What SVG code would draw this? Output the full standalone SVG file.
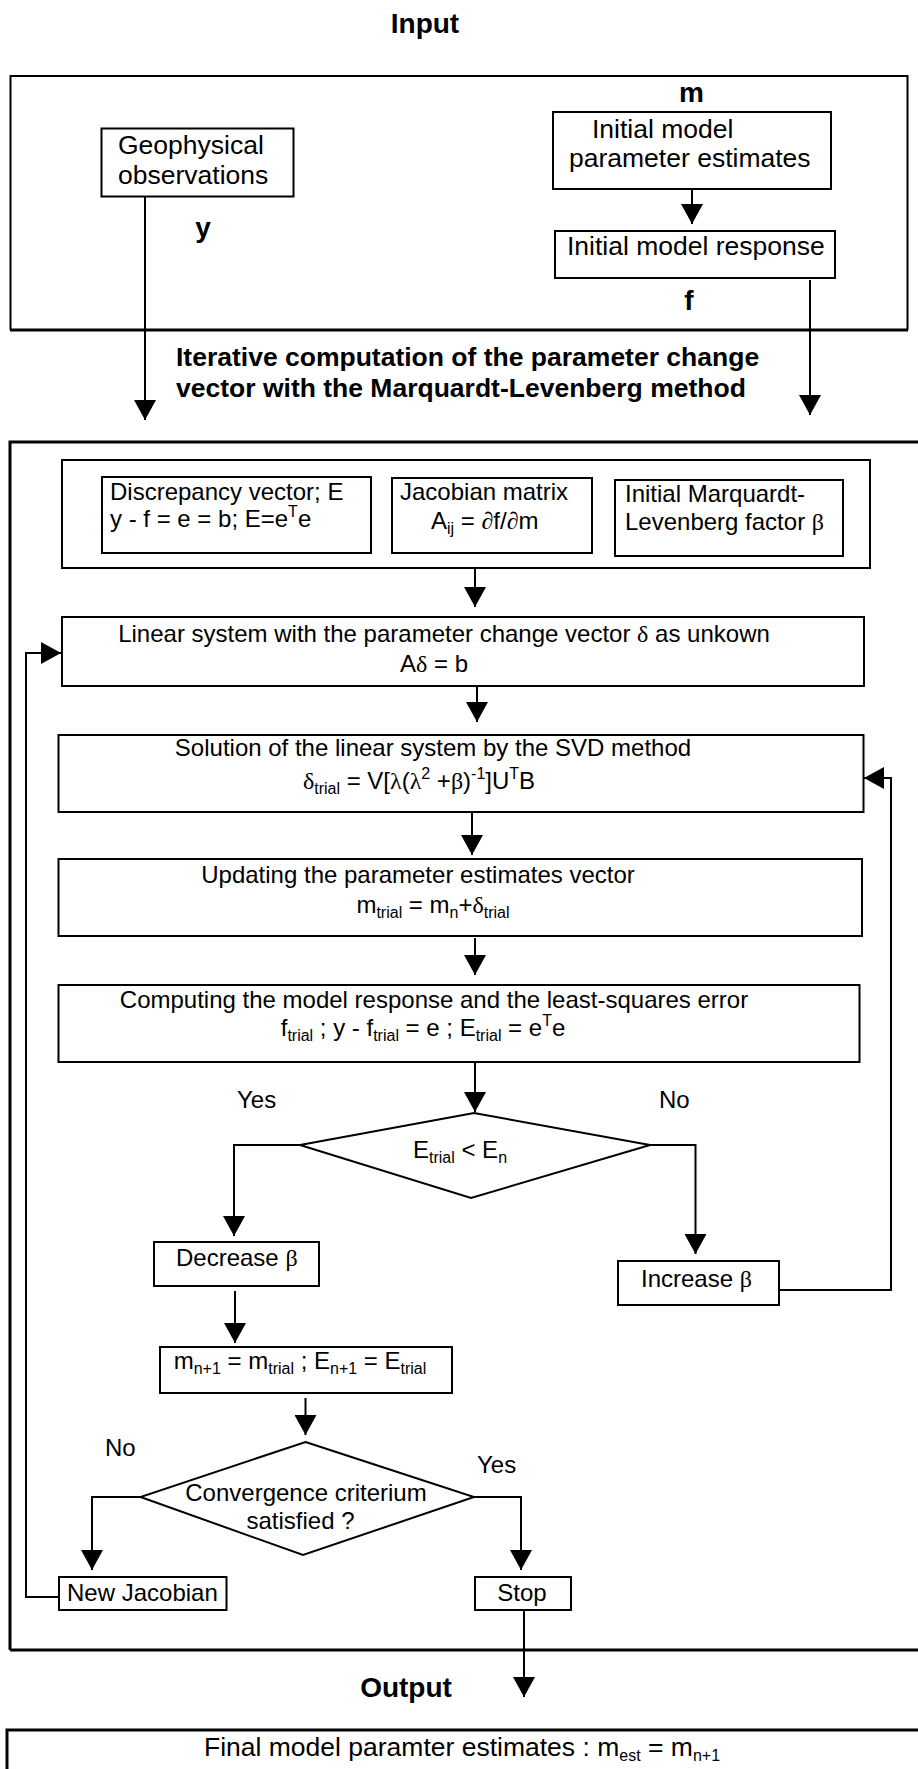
<svg xmlns="http://www.w3.org/2000/svg" width="918" height="1769" viewBox="0 0 918 1769">
<defs>
<style>
text{font-family:"Liberation Sans",Arial,sans-serif;fill:#000}
.t26{font-size:26.5px}
.t24{font-size:24px}
.b{font-weight:bold;font-size:26.5px}
.bh{font-weight:bold;font-size:28px}
.g{font-family:"Liberation Serif","Times New Roman",serif}
.box{fill:#fff;stroke:#000;stroke-width:2}
.frame{fill:none;stroke:#000;stroke-width:2}
.thick{fill:none;stroke:#000;stroke-width:3}
.c{fill:none;stroke:#000;stroke-width:2}
.s{font-size:16px}
</style>
<marker id="ah" markerUnits="userSpaceOnUse" markerWidth="22" markerHeight="22" refX="20" refY="11" orient="auto">
<path d="M0,0 L20,11 L0,22 z" fill="#000"/>
</marker>
</defs>
<rect width="918" height="1769" fill="#fff"/>

<g id="input-title"><text class="bh" x="425" y="33" text-anchor="middle">Input</text></g>

<g id="input-frame">
<path class="frame" d="M10.5,330 V76 H907.5 V330"/>
<path class="thick" d="M10,330 H908"/>
</g>

<g id="geo">
<rect class="box" x="101.5" y="128.5" width="192" height="68"/>
<text class="t26" x="118" y="154">Geophysical</text>
<text class="t26" x="118" y="183.5">observations</text>
</g>

<g id="init-params">
<rect class="box" x="553" y="112" width="278" height="77"/>
<text class="t26" x="592" y="138">Initial model</text>
<text class="t26" x="569" y="167">parameter estimates</text>
</g>

<g id="init-response">
<rect class="box" x="555" y="231" width="280" height="47"/>
<text class="t26" x="567" y="255">Initial model response</text>
</g>

<g id="labels-top">
<text class="bh" x="691.5" y="102" text-anchor="middle">m</text>
<text class="bh" x="203" y="237" text-anchor="middle">y</text>
<text class="bh" x="689" y="310" text-anchor="middle">f</text>
<text class="b" x="176" y="366">Iterative computation of the parameter change</text>
<text class="b" x="176" y="397">vector with the Marquardt-Levenberg method</text>
</g>

<g id="iter-frame">
<path class="thick" d="M10,1650 V442 H925"/>
<path class="thick" d="M10,1650 H925"/>
</g>

<g id="group-box">
<rect class="box" x="62" y="460" width="808" height="108"/>
</g>

<g id="discrepancy">
<rect class="box" x="102" y="477" width="269" height="76"/>
<text class="t24" x="110" y="500">Discrepancy vector; E</text>
<text class="t24" x="110" y="527">y - f = e = b; E=e<tspan class="s" dy="-10">T</tspan><tspan dy="10">e</tspan></text>
</g>

<g id="jacobian">
<rect class="box" x="392" y="478" width="200" height="75"/>
<text class="t24" x="400" y="500">Jacobian matrix</text>
<text class="t24" x="431" y="529">A<tspan class="s" dy="5">ij</tspan><tspan dy="-5"> = </tspan><tspan class="g">∂</tspan>f/<tspan class="g">∂</tspan>m</text>
</g>

<g id="marquardt">
<rect class="box" x="615" y="480" width="228" height="76"/>
<text class="t24" x="625" y="502">Initial Marquardt-</text>
<text class="t24" x="625" y="530">Levenberg factor <tspan class="g">β</tspan></text>
</g>

<g id="linear">
<rect class="box" x="62" y="617" width="802" height="69"/>
<text class="t24" x="444" y="642" text-anchor="middle">Linear system with the parameter change vector <tspan class="g">δ</tspan> as unkown</text>
<text class="t24" x="434" y="672" text-anchor="middle">A<tspan class="g">δ</tspan> = b</text>
</g>

<g id="svd">
<rect class="box" x="58.5" y="735" width="805" height="77"/>
<text class="t24" x="433" y="756" text-anchor="middle">Solution of the linear system by the SVD method</text>
<text class="t24" x="419" y="789" text-anchor="middle"><tspan class="g">δ</tspan><tspan class="s" dy="5">trial</tspan><tspan dy="-5"> = V[</tspan><tspan class="g">λ</tspan>(<tspan class="g">λ</tspan><tspan class="s" dy="-10">2</tspan><tspan dy="10"> +</tspan><tspan class="g">β</tspan>)<tspan class="s" dy="-10">-1</tspan><tspan dy="10">]U</tspan><tspan class="s" dy="-10">T</tspan><tspan dy="10">B</tspan></text>
</g>

<g id="updating">
<rect class="box" x="58.5" y="859" width="803.5" height="77"/>
<text class="t24" x="418" y="883" text-anchor="middle">Updating the parameter estimates vector</text>
<text class="t24" x="433" y="913" text-anchor="middle">m<tspan class="s" dy="5">trial</tspan><tspan dy="-5"> = m</tspan><tspan class="s" dy="5">n</tspan><tspan dy="-5">+</tspan><tspan class="g">δ</tspan><tspan class="s" dy="5">trial</tspan></text>
</g>

<g id="computing">
<rect class="box" x="58.5" y="985" width="801" height="77"/>
<text class="t24" x="434" y="1008" text-anchor="middle">Computing the model response and the least-squares error</text>
<text class="t24" x="423" y="1036" text-anchor="middle">f<tspan class="s" dy="5">trial</tspan><tspan dy="-5"> ; y - f</tspan><tspan class="s" dy="5">trial</tspan><tspan dy="-5"> = e ; E</tspan><tspan class="s" dy="5">trial</tspan><tspan dy="-5"> = e</tspan><tspan class="s" dy="-10">T</tspan><tspan dy="10">e</tspan></text>
</g>

<g id="decision1">
<path class="box" d="M474,1113 L650,1145 L471,1198 L300,1145 z"/>
<text class="t24" x="460" y="1158" text-anchor="middle">E<tspan class="s" dy="5">trial</tspan><tspan dy="-5"> &lt; E</tspan><tspan class="s" dy="5">n</tspan></text>
</g>

<g id="branch-labels">
<text class="t24" x="237" y="1108">Yes</text>
<text class="t24" x="659" y="1108">No</text>
<text class="t24" x="105" y="1456">No</text>
<text class="t24" x="477" y="1473">Yes</text>
</g>

<g id="decrease">
<rect class="box" x="154" y="1242" width="165" height="44"/>
<text class="t24" x="176" y="1266">Decrease <tspan class="g">β</tspan></text>
</g>

<g id="increase">
<rect class="box" x="618" y="1261" width="161" height="44"/>
<text class="t24" x="641" y="1287">Increase <tspan class="g">β</tspan></text>
</g>

<g id="update-n1">
<rect class="box" x="160" y="1347" width="292" height="46"/>
<text class="t24" x="300" y="1369" text-anchor="middle">m<tspan class="s" dy="5">n+1</tspan><tspan dy="-5"> = m</tspan><tspan class="s" dy="5">trial</tspan><tspan dy="-5"> ; E</tspan><tspan class="s" dy="5">n+1</tspan><tspan dy="-5"> = E</tspan><tspan class="s" dy="5">trial</tspan></text>
</g>

<g id="decision2">
<path class="box" d="M305.5,1442 L474,1497 L303,1555 L140.5,1497 z"/>
<text class="t24" x="306" y="1501" text-anchor="middle">Convergence criterium</text>
<text class="t24" x="300.5" y="1529" text-anchor="middle">satisfied ?</text>
</g>

<g id="new-jacobian">
<rect class="box" x="59" y="1577" width="167.5" height="33"/>
<text class="t24" x="67" y="1601">New Jacobian</text>
</g>

<g id="stop">
<rect class="box" x="475" y="1577" width="96" height="33"/>
<text class="t24" x="522" y="1601" text-anchor="middle">Stop</text>
</g>

<g id="output-title"><text class="bh" x="406" y="1697" text-anchor="middle">Output</text></g>

<g id="final">
<path class="thick" d="M7,1775 V1730 H925"/>
<text class="t26" x="462" y="1756" text-anchor="middle">Final model paramter estimates : m<tspan class="s" dy="5">est</tspan><tspan dy="-5"> = m</tspan><tspan class="s" dy="5">n+1</tspan></text>
</g>

<g id="connectors">
<path class="c" d="M692,189 V224" marker-end="url(#ah)"/>
<path class="c" d="M145,196 V420" marker-end="url(#ah)"/>
<path class="c" d="M810,280 V415" marker-end="url(#ah)"/>
<path class="c" d="M475,568 V607" marker-end="url(#ah)"/>
<path class="c" d="M477,686 V722" marker-end="url(#ah)"/>
<path class="c" d="M472,812 V855" marker-end="url(#ah)"/>
<path class="c" d="M475,938 V975" marker-end="url(#ah)"/>
<path class="c" d="M475,1062 V1112" marker-end="url(#ah)"/>
<path class="c" d="M300,1145 H234 V1236" marker-end="url(#ah)"/>
<path class="c" d="M650,1145 H695.5 V1254" marker-end="url(#ah)"/>
<path class="c" d="M779,1290 H891 V778 H864" marker-end="url(#ah)"/>
<path class="c" d="M235,1291 V1343" marker-end="url(#ah)"/>
<path class="c" d="M305.5,1398 V1435" marker-end="url(#ah)"/>
<path class="c" d="M140.5,1497 H92 V1570" marker-end="url(#ah)"/>
<path class="c" d="M474,1497 H521 V1570" marker-end="url(#ah)"/>
<path class="c" d="M59,1597 H26 V653 H61" marker-end="url(#ah)"/>
<path class="c" d="M524,1610 V1697" marker-end="url(#ah)"/>
</g>
</svg>
